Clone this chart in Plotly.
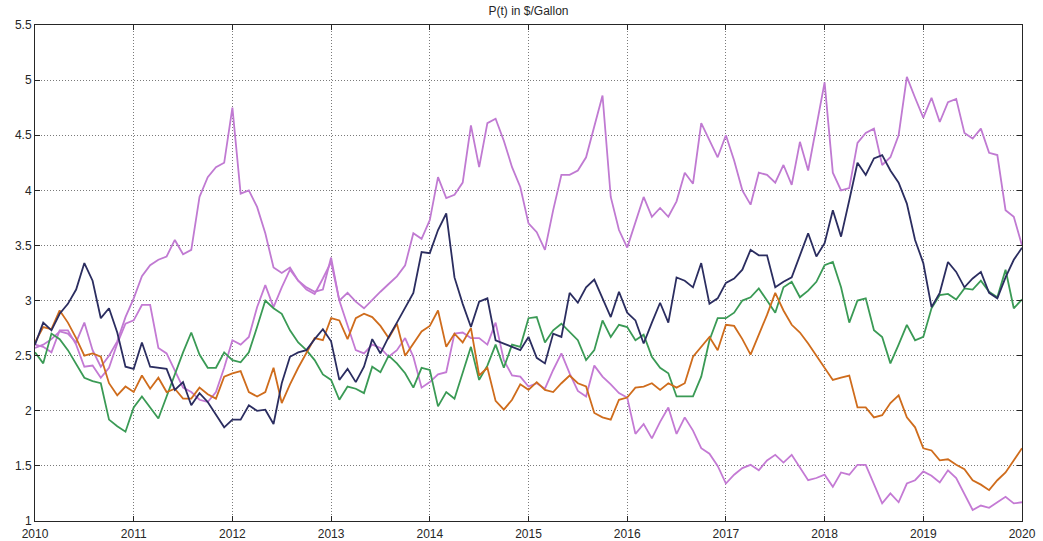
import plotly.graph_objects as go

# Monthly observations, Jan 2010 .. Jan 2020 (121 points)
start_year = 2010
n_months = 121
months = [start_year + i / 12 for i in range(n_months)]

year_ticks = [2010, 2011, 2012, 2013, 2014, 2015, 2016, 2017, 2018, 2019, 2020]
year_labels = [str(y) for y in year_ticks]
price_ticks = [1, 1.5, 2, 2.5, 3, 3.5, 4, 4.5, 5, 5.5]

violet_high = [
    2.57, 2.60, 2.65, 2.72, 2.70, 2.62, 2.80, 2.55, 2.40, 2.50,
    2.63, 2.85, 3.02, 3.22, 3.32, 3.37, 3.40, 3.55, 3.42, 3.46,
    3.94, 4.12, 4.21, 4.25, 4.75, 3.97, 4.00, 3.85, 3.61, 3.30,
    3.25, 3.30, 3.18, 3.12, 3.08, 3.10, 3.39, 3.00, 3.07, 2.99,
    2.93, 3.01, 3.08, 3.15, 3.22, 3.32, 3.61, 3.56, 3.73, 4.12,
    3.93, 3.96, 4.07, 4.59, 4.21, 4.61, 4.65, 4.45, 4.21, 4.03,
    3.70, 3.62, 3.46, 3.82, 4.14, 4.14, 4.18, 4.30, 4.57, 4.86,
    3.94, 3.64, 3.48, 3.71, 3.94, 3.76, 3.84, 3.76, 3.90, 4.16,
    4.06, 4.61, 4.45, 4.30, 4.50, 4.27, 4.00, 3.87, 4.16, 4.14,
    4.07, 4.23, 4.05, 4.44, 4.18, 4.57, 4.98, 4.16, 4.00, 4.02,
    4.43, 4.52, 4.56, 4.23, 4.30, 4.50, 5.03, 4.84, 4.66, 4.84,
    4.62, 4.80, 4.83, 4.52, 4.47, 4.56, 4.34, 4.32, 3.82, 3.76,
    3.50,
]

violet_low = [
    2.60, 2.58, 2.53, 2.73, 2.73, 2.60, 2.40, 2.41, 2.30, 2.39,
    2.61, 2.79, 2.82, 2.96, 2.96, 2.57, 2.52, 2.37, 2.21, 2.17,
    2.10, 2.08, 2.17, 2.39, 2.64, 2.60, 2.67, 2.94, 3.14, 2.94,
    3.12, 3.28, 3.18, 3.10, 3.06, 3.20, 3.35, 3.00, 2.78, 2.55,
    2.52, 2.60, 2.57, 2.49, 2.55, 2.66, 2.49, 2.21, 2.26, 2.33,
    2.35, 2.70, 2.71, 2.66, 2.66, 2.60, 2.80, 2.46, 2.32, 2.31,
    2.22, 2.25, 2.20, 2.37, 2.52, 2.34, 2.18, 2.13, 2.41, 2.31,
    2.24, 2.16, 2.12, 1.79, 1.88, 1.75, 1.90, 2.03, 1.79, 1.94,
    1.82, 1.66, 1.61, 1.50, 1.34, 1.42, 1.48, 1.51, 1.46, 1.55,
    1.60, 1.53, 1.60, 1.49, 1.37, 1.39, 1.42, 1.31, 1.44, 1.42,
    1.51, 1.51, 1.34, 1.16, 1.25, 1.17, 1.34, 1.37, 1.45, 1.41,
    1.35, 1.46, 1.39, 1.25, 1.10, 1.14, 1.12, 1.17, 1.22, 1.16,
    1.17,
]

navy = [
    2.60, 2.80, 2.73, 2.88, 2.97, 3.10, 3.34, 3.18, 2.84, 2.93,
    2.71, 2.40, 2.38, 2.62, 2.40, 2.39, 2.38, 2.19, 2.26, 2.05,
    2.16, 2.08, 1.96, 1.85, 1.92, 1.92, 2.05, 2.00, 2.01, 1.88,
    2.25, 2.49, 2.53, 2.55, 2.65, 2.74, 2.63, 2.28, 2.38, 2.26,
    2.40, 2.65, 2.52, 2.67, 2.80, 2.94, 3.07, 3.44, 3.43, 3.64,
    3.79, 3.21, 2.97, 2.76, 2.99, 3.02, 2.64, 2.61, 2.58, 2.55,
    2.67, 2.48, 2.43, 2.70, 2.67, 3.07, 2.98, 3.12, 3.19, 3.02,
    2.85, 3.08, 2.89, 2.82, 2.61, 2.80, 2.98, 2.80, 3.21, 3.18,
    3.12, 3.34, 2.97, 3.02, 3.16, 3.20, 3.28, 3.46, 3.41, 3.41,
    3.12, 3.17, 3.21, 3.41, 3.61, 3.40, 3.52, 3.82, 3.58, 3.91,
    4.25, 4.14, 4.29, 4.32, 4.18, 4.07, 3.88, 3.55, 3.34, 2.94,
    3.07, 3.35, 3.26, 3.12, 3.20, 3.26, 3.07, 3.02, 3.21, 3.37,
    3.48,
]

green = [
    2.53, 2.43, 2.70, 2.65, 2.55, 2.42, 2.30, 2.27, 2.25, 1.92,
    1.86, 1.81, 2.03, 2.13, 2.03, 1.93, 2.13, 2.33, 2.53, 2.71,
    2.51, 2.39, 2.39, 2.53, 2.46, 2.44, 2.53, 2.76, 3.00, 2.93,
    2.88, 2.73, 2.62, 2.55, 2.46, 2.33, 2.28, 2.10, 2.22, 2.20,
    2.16, 2.40, 2.35, 2.50, 2.43, 2.34, 2.21, 2.39, 2.37, 2.04,
    2.17, 2.11, 2.34, 2.58, 2.28, 2.41, 2.60, 2.39, 2.60, 2.58,
    2.84, 2.85, 2.62, 2.73, 2.79, 2.71, 2.64, 2.46, 2.55, 2.82,
    2.67, 2.78, 2.76, 2.64, 2.69, 2.49, 2.39, 2.34, 2.13, 2.13,
    2.13, 2.31, 2.64, 2.84, 2.84, 2.89, 3.00, 3.03, 3.11, 3.00,
    2.89, 3.12, 3.17, 3.03, 3.09, 3.17, 3.32, 3.35, 3.12, 2.80,
    3.00, 3.02, 2.73, 2.67, 2.43, 2.60, 2.78, 2.64, 2.67, 2.93,
    3.05, 3.06, 3.01, 3.11, 3.10, 3.18, 3.08, 3.03, 3.28, 2.93,
    3.01,
]

orange = [
    2.62, 2.76, 2.74, 2.91, 2.80, 2.66, 2.50, 2.52, 2.49, 2.25,
    2.14, 2.22, 2.17, 2.32, 2.20, 2.30, 2.17, 2.20, 2.11, 2.11,
    2.21, 2.15, 2.11, 2.31, 2.34, 2.36, 2.17, 2.13, 2.17, 2.39,
    2.07, 2.24, 2.39, 2.52, 2.66, 2.64, 2.84, 2.82, 2.65, 2.84,
    2.88, 2.85, 2.77, 2.66, 2.79, 2.50, 2.61, 2.72, 2.77, 2.91,
    2.58, 2.70, 2.62, 2.75, 2.32, 2.39, 2.09, 2.01, 2.10, 2.24,
    2.19, 2.26, 2.19, 2.17, 2.25, 2.32, 2.25, 2.22, 1.98, 1.94,
    1.92, 2.10, 2.12, 2.21, 2.22, 2.25, 2.19, 2.25, 2.21, 2.25,
    2.49, 2.58, 2.67, 2.55, 2.78, 2.77, 2.65, 2.51, 2.69, 2.87,
    3.07, 2.91, 2.78, 2.71, 2.61, 2.50, 2.38, 2.28, 2.30, 2.32,
    2.03, 2.03, 1.94, 1.96, 2.07, 2.14, 1.94, 1.85, 1.66, 1.64,
    1.55, 1.56, 1.51, 1.47, 1.37, 1.33, 1.28, 1.37, 1.44, 1.55,
    1.66,
]

series = [
    ("violet_high", violet_high, "#c07ad2"),
    ("violet_low", violet_low, "#c47ad4"),
    ("green", green, "#3a9a55"),
    ("orange", orange, "#cf6c1c"),
    ("navy", navy, "#2b2d60"),
]

fig = go.Figure()
for name, vals, color in series:
    fig.add_trace(go.Scatter(
        x=months, y=vals, mode="lines", name=name,
        line=dict(color=color, width=1.8),
        hoverinfo="skip", showlegend=False,
    ))

axis_common = dict(
    showline=True, linecolor="#262626", linewidth=1,
    mirror="ticks", ticks="inside", ticklen=5, tickcolor="#262626",
    showgrid=True, gridcolor="#7a7a7a", griddash="1px,2px", gridwidth=1,
    zeroline=False, automargin=False,
    tickfont=dict(family="Liberation Sans, Arial, sans-serif", size=12, color="#262626"),
)

fig.update_xaxes(range=[2010, 2020], tickvals=year_ticks, ticktext=year_labels,
                 ticklabelstandoff=2, **axis_common)
fig.update_yaxes(range=[1, 5.5], tickvals=price_ticks, **axis_common)

fig.update_layout(
    width=1043, height=541,
    margin=dict(l=35, r=21, t=25, b=20),
    paper_bgcolor="white", plot_bgcolor="white",
    title=dict(text="P(t) in $/Gallon", x=528.5 / 1043, xanchor="center",
               y=1 - 11 / 541, yanchor="middle", yref="container",
               font=dict(family="Liberation Sans, Arial, sans-serif", size=12, color="#262626")),
)

# remove the default page margin so the figure sits at the window's top-left
fig.write_html("out.html", config={"displayModeBar": False},
               post_script="document.body.style.margin='0';")
